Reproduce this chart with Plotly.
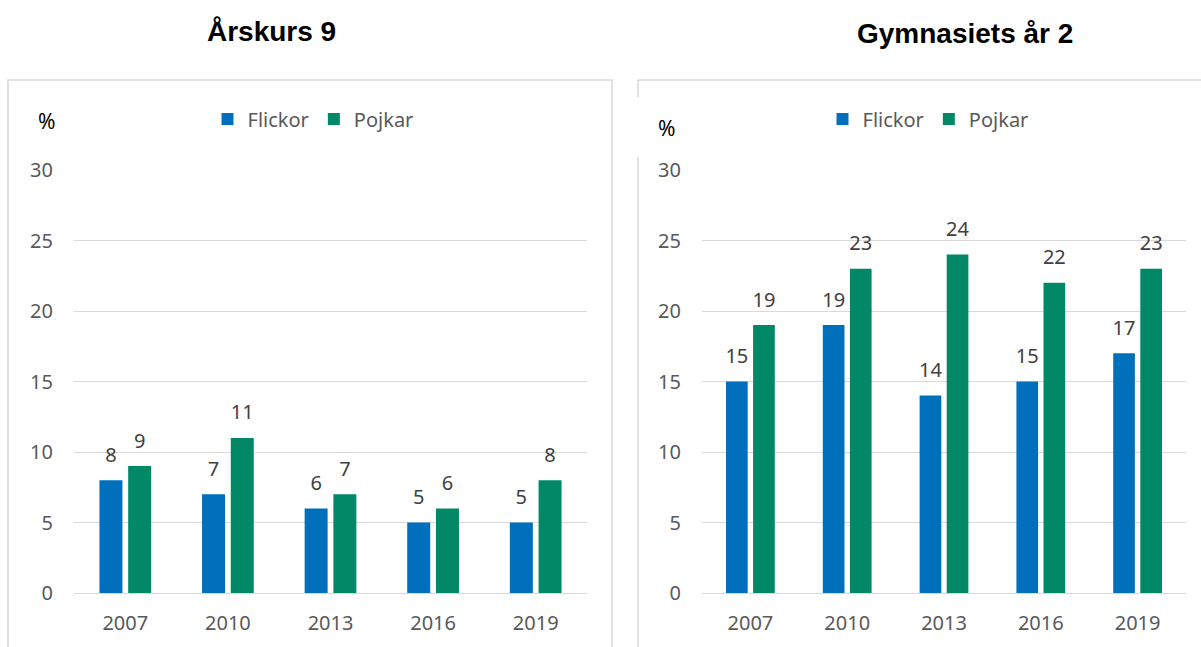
import plotly.graph_objects as go

years = ["2007", "2010", "2013", "2016", "2019"]
ak9_flickor = [8, 7, 6, 5, 5]
ak9_pojkar = [9, 11, 7, 6, 8]
gy2_flickor = [15, 19, 14, 15, 17]
gy2_pojkar = [19, 23, 24, 22, 23]
titles = ["Årskurs 9", "Gymnasiets år 2"]
series_names = ["Flickor", "Pojkar"]
y_ticks = [0, 5, 10, 15, 20, 25, 30]

BLUE = "#0070BD"
GREEN = "#008867"
GRID = "#D9D9D9"
TXT = "#595959"
LBL = "#404040"
FONT = "Noto Sans"
W, H = 1201, 647
GAP = 0.44

fig = go.Figure()

def add(xaxis, yaxis, legend, vals, name, color, grp):
    fig.add_trace(go.Bar(
        x=years, y=vals, name=name, marker=dict(color=color, line=dict(width=0)),
        offsetgroup=grp, xaxis=xaxis, yaxis=yaxis, legend=legend, hoverinfo="skip",
    ))
    # data labels above bars
    fig.add_trace(go.Scatter(
        x=years, y=vals, mode="markers+text", text=[str(v) for v in vals],
        textposition="top center", cliponaxis=False, showlegend=False, hoverinfo="skip",
        marker=dict(size=20, opacity=0), offsetgroup=grp,
        textfont=dict(family=FONT, size=20, color=LBL),
        xaxis=xaxis, yaxis=yaxis,
    ))

add("x", "y", "legend", ak9_flickor, series_names[0], BLUE, "f")
add("x", "y", "legend", ak9_pojkar, series_names[1], GREEN, "p")
add("x2", "y2", "legend2", gy2_flickor, series_names[0], BLUE, "f")
add("x2", "y2", "legend2", gy2_pojkar, series_names[1], GREEN, "p")

ydom = [1 - 593 / H, 1 - 170 / H]
axis_common_y = dict(range=[0, 30], tickvals=y_ticks, showgrid=True, gridcolor=GRID, gridwidth=1,
                     zeroline=False, showline=False, ticks="", ticklabelstandoff=20, automargin=False,
                     tickfont=dict(family=FONT, size=20, color=TXT), domain=ydom, fixedrange=True)
axis_common_x = dict(type="category", showgrid=False, zeroline=False, showline=True, linecolor=GRID,
                     linewidth=1, ticks="", ticklabelstandoff=12, automargin=False, fixedrange=True,
                     tickfont=dict(family=FONT, size=20, color=TXT))

fy = 1 - 80 / H
fig.update_layout(
    width=W, height=H, margin=dict(l=0, r=0, t=0, b=0, pad=0, autoexpand=False),
    paper_bgcolor="white", plot_bgcolor="white",
    barmode="group", bargap=GAP, bargroupgap=0.2,
    scattermode="group", scattergap=GAP,
    showlegend=True,
    xaxis=dict(domain=[74 / W, 587 / W], anchor="y", **axis_common_x),
    yaxis=dict(anchor="x", **axis_common_y),
    xaxis2=dict(domain=[702 / W, 1186 / W], anchor="y2", **axis_common_x),
    yaxis2=dict(anchor="x2", **axis_common_y),
    legend=dict(orientation="h", x=313 / W, xanchor="center", y=1 - 119 / H, yanchor="middle",
                font=dict(family=FONT, size=20, color=TXT), bgcolor="rgba(0,0,0,0)",
                itemwidth=30, tracegroupgap=0),
    legend2=dict(orientation="h", x=928 / W, xanchor="center", y=1 - 119 / H, yanchor="middle",
                 font=dict(family=FONT, size=20, color=TXT), bgcolor="rgba(0,0,0,0)",
                 itemwidth=30, tracegroupgap=0),
    shapes=[
        dict(type="rect", xref="paper", yref="paper", x0=8 / W, x1=612 / W, y0=-0.02, y1=fy,
             line=dict(color=GRID, width=1.5), fillcolor="rgba(0,0,0,0)", layer="below"),
        dict(type="line", xref="paper", yref="paper", x0=638 / W, x1=1.0, y0=fy, y1=fy,
             line=dict(color=GRID, width=1.5), layer="below"),
        dict(type="line", xref="paper", yref="paper", x0=638 / W, x1=638 / W, y0=fy, y1=1 - 97 / H,
             line=dict(color=GRID, width=1.5), layer="below"),
        dict(type="line", xref="paper", yref="paper", x0=638 / W, x1=638 / W, y0=1 - 157 / H, y1=-0.02,
             line=dict(color=GRID, width=1.5), layer="below"),
    ],
    annotations=[
        dict(text="<b>" + titles[0] + "</b>", xref="paper", yref="paper", x=271 / W, y=1 - 32 / H,
             xanchor="center", yanchor="middle", showarrow=False,
             font=dict(family="Liberation Sans", size=28, color="black")),
        dict(text="<b>" + titles[1] + "</b>", xref="paper", yref="paper", x=965 / W, y=1 - 33 / H,
             xanchor="center", yanchor="middle", showarrow=False,
             font=dict(family="Liberation Sans", size=28, color="black")),
        dict(text="%", xref="paper", yref="paper", x=46 / W, y=1 - 121 / H,
             xanchor="center", yanchor="middle", showarrow=False,
             font=dict(family=FONT, size=21, color="black")),
        dict(text="%", xref="paper", yref="paper", x=666 / W, y=1 - 128 / H,
             xanchor="center", yanchor="middle", showarrow=False,
             font=dict(family=FONT, size=21, color="black")),
    ],
)

fig.write_html("out.html", config={"displayModeBar": False},
               post_script="document.body.style.margin='0';document.body.style.overflow='hidden';")
